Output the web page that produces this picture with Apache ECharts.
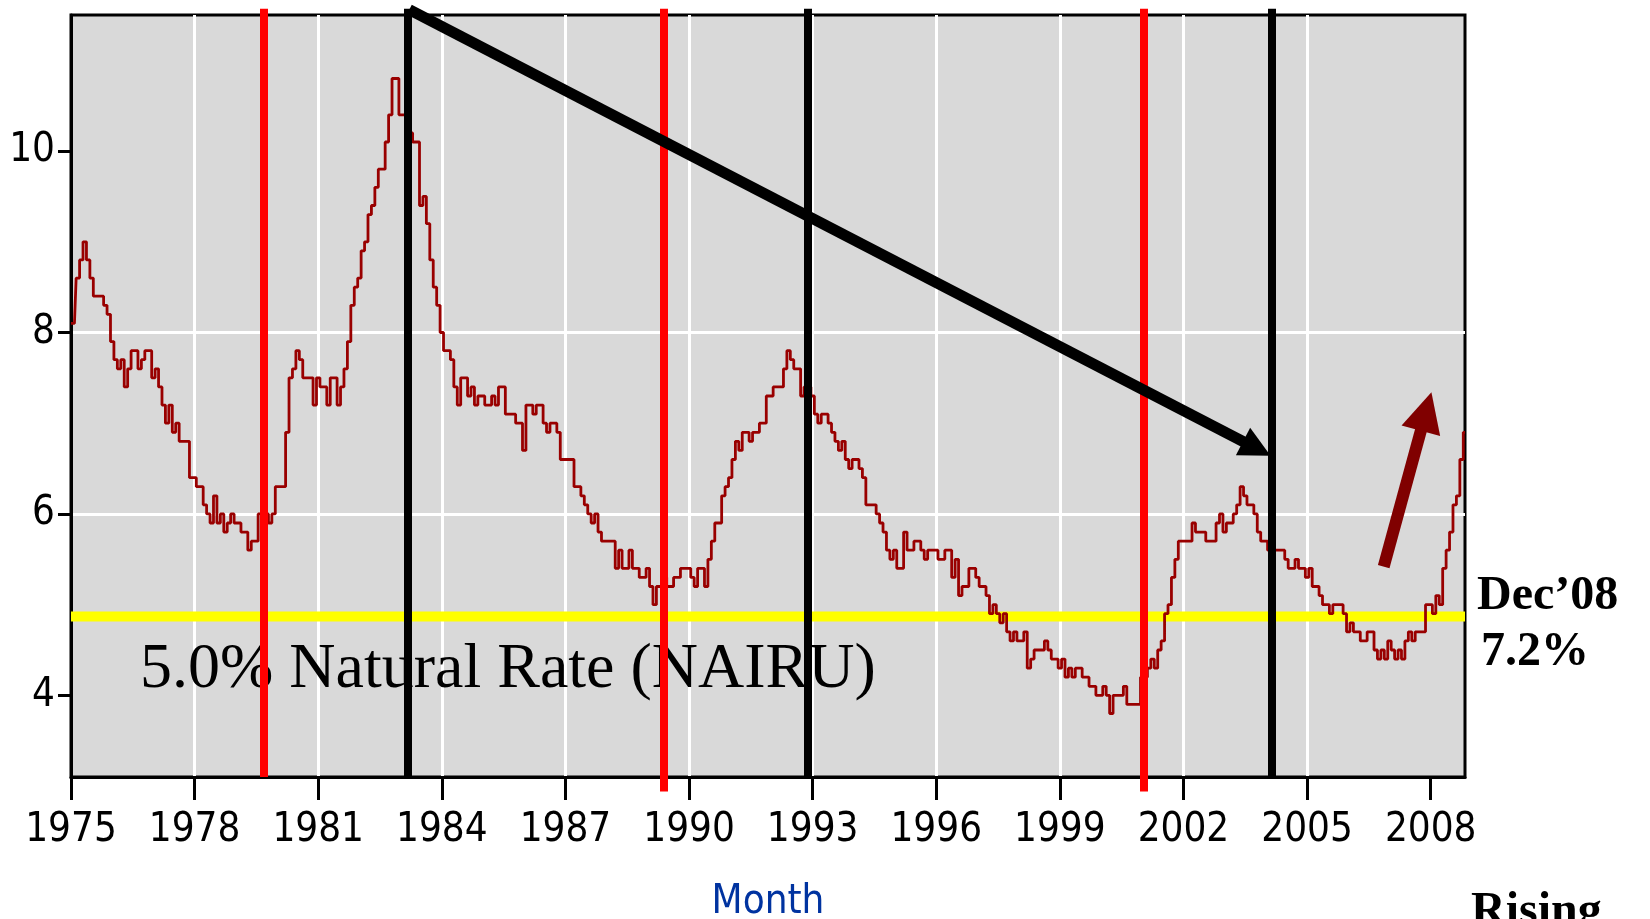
<!DOCTYPE html>
<html>
<head>
<meta charset="utf-8">
<title>Unemployment rate 1975-2008</title>
<script src="https://cdn.jsdelivr.net/npm/echarts@6/dist/echarts.min.js"></script>
<style>
  html, body { margin: 0; padding: 0; background: #fff; }
  #chart { width: 1650px; height: 919px; }
</style>
</head>
<body>
<div id="chart"></div>
<script>
// monthly unemployment rate (%), Jan 1975 .. Nov 2008
const startYear = 1975;
const rate1975s = [
  8.1, 8.1, 8.6, 8.8, 9.0, 8.8, 8.6, 8.4, 8.4, 8.4, 8.3, 8.2,
  7.9, 7.7, 7.6, 7.7, 7.4, 7.6, 7.8, 7.8, 7.6, 7.7, 7.8, 7.8,
  7.5, 7.6, 7.4, 7.2, 7.0, 7.2, 6.9, 7.0, 6.8, 6.8, 6.8, 6.4,
  6.4, 6.3, 6.3, 6.1, 6.0, 5.9, 6.2, 5.9, 6.0, 5.8, 5.9, 6.0,
  5.9, 5.9, 5.8, 5.8, 5.6, 5.7, 5.7, 6.0, 5.9, 6.0, 5.9, 6.0
];
const rate1980s = [
  6.3, 6.3, 6.3, 6.9, 7.5, 7.6, 7.8, 7.7, 7.5, 7.5, 7.5, 7.2,
  7.5, 7.4, 7.4, 7.2, 7.5, 7.5, 7.2, 7.4, 7.6, 7.9, 8.3, 8.5,
  8.6, 8.9, 9.0, 9.3, 9.4, 9.6, 9.8, 9.8, 10.1, 10.4, 10.8, 10.8,
  10.4, 10.4, 10.3, 10.2, 10.1, 10.1, 9.4, 9.5, 9.2, 8.8, 8.5, 8.3,
  8.0, 7.8, 7.8, 7.7, 7.4, 7.2, 7.5, 7.5, 7.3, 7.4, 7.2, 7.3,
  7.3, 7.2, 7.2, 7.3, 7.2, 7.4, 7.4, 7.1, 7.1, 7.1, 7.0, 7.0,
  6.7, 7.2, 7.2, 7.1, 7.2, 7.2, 7.0, 6.9, 7.0, 7.0, 6.9, 6.6,
  6.6, 6.6, 6.6, 6.3, 6.3, 6.2, 6.1, 6.0, 5.9, 6.0, 5.8, 5.7,
  5.7, 5.7, 5.7, 5.4, 5.6, 5.4, 5.4, 5.6, 5.4, 5.4, 5.3, 5.3,
  5.4, 5.2, 5.0, 5.2, 5.2, 5.3, 5.2, 5.2, 5.3, 5.3, 5.4, 5.4
];
const rate1990s = [
  5.4, 5.3, 5.2, 5.4, 5.4, 5.2, 5.5, 5.7, 5.9, 5.9, 6.2, 6.3,
  6.4, 6.6, 6.8, 6.7, 6.9, 6.9, 6.8, 6.9, 6.9, 7.0, 7.0, 7.3,
  7.3, 7.4, 7.4, 7.4, 7.6, 7.8, 7.7, 7.6, 7.6, 7.3, 7.4, 7.4,
  7.3, 7.1, 7.0, 7.1, 7.1, 7.0, 6.9, 6.8, 6.7, 6.8, 6.6, 6.5,
  6.6, 6.6, 6.5, 6.4, 6.1, 6.1, 6.1, 6.0, 5.9, 5.8, 5.6, 5.5,
  5.6, 5.4, 5.4, 5.8, 5.6, 5.6, 5.7, 5.7, 5.6, 5.5, 5.6, 5.6,
  5.6, 5.5, 5.5, 5.6, 5.6, 5.3, 5.5, 5.1, 5.2, 5.2, 5.4, 5.4,
  5.3, 5.2, 5.2, 5.1, 4.9, 5.0, 4.9, 4.8, 4.9, 4.7, 4.6, 4.7,
  4.6, 4.6, 4.7, 4.3, 4.4, 4.5, 4.5, 4.5, 4.6, 4.5, 4.4, 4.4,
  4.3, 4.4, 4.2, 4.3, 4.2, 4.3, 4.3, 4.2, 4.2, 4.1, 4.1, 4.0
];
const rate2000s = [
  4.0, 4.1, 4.0, 3.8, 4.0, 4.0, 4.0, 4.1, 3.9, 3.9, 3.9, 3.9,
  4.2, 4.2, 4.3, 4.4, 4.3, 4.5, 4.6, 4.9, 5.0, 5.3, 5.5, 5.7,
  5.7, 5.7, 5.7, 5.9, 5.8, 5.8, 5.8, 5.7, 5.7, 5.7, 5.9, 6.0,
  5.8, 5.9, 5.9, 6.0, 6.1, 6.3, 6.2, 6.1, 6.1, 6.0, 5.8, 5.7,
  5.7, 5.6, 5.8, 5.6, 5.6, 5.6, 5.5, 5.4, 5.4, 5.5, 5.4, 5.4,
  5.3, 5.4, 5.2, 5.2, 5.1, 5.0, 5.0, 4.9, 5.0, 5.0, 5.0, 4.9,
  4.7, 4.8, 4.7, 4.7, 4.6, 4.6, 4.7, 4.7, 4.5, 4.4, 4.5, 4.4,
  4.6, 4.5, 4.4, 4.5, 4.4, 4.6, 4.7, 4.6, 4.7, 4.7, 4.7, 5.0,
  5.0, 4.9, 5.1, 5.0, 5.4, 5.6, 5.8, 6.1, 6.2, 6.6, 6.9
];

const yearTicks = [1975, 1978, 1981, 1984, 1987, 1990, 1993, 1996, 1999, 2002, 2005, 2008];
const rateTicks = [4, 6, 8, 10];

// annotation levels / dates
const nairuLevel = 4.87;
const redLineYears = [1979.69, 1989.39, 2001.04];
const blackLineYears = [1983.18, 1992.89, 2004.15];

const rates = [].concat(rate1975s, rate1980s, rate1990s, rate2000s);
const points = rates.map((v, i) => [startYear + i / 12, v]);
const xMax = startYear + (rates.length - 1) / 12;

const tickFont = "'DejaVu Sans Condensed', 'Liberation Sans Narrow', sans-serif";
const serifFont = "'Liberation Serif', 'Times New Roman', serif";

const chart = echarts.init(document.getElementById('chart'));

const option = {
  animation: false,
  backgroundColor: '#ffffff',
  grid: {
    left: 71,
    right: 185,
    top: 15,
    bottom: 142,
    show: true,
    backgroundColor: '#d9d9d9',
    borderColor: '#000',
    borderWidth: 3,
    outerBoundsMode: 'none',
  },
  xAxis: {
    type: 'value',
    min: startYear,
    max: xMax,
    interval: 3,
    name: 'Month',
    nameLocation: 'middle',
    nameGap: 106,
    nameTextStyle: { color: '#0033a0', fontSize: 40, fontFamily: tickFont },
    axisLine: { lineStyle: { color: '#000', width: 3 } },
    axisTick: { length: 23, customValues: yearTicks, lineStyle: { color: '#000', width: 3 } },
    axisLabel: {
      customValues: yearTicks,
      margin: 34,
      color: '#000',
      fontSize: 40,
      fontFamily: tickFont,
      formatter: (v) => String(v),
    },
    splitLine: {
      show: true,
      showMinLine: false,
      showMaxLine: false,
      lineStyle: { color: '#fff', width: 3 },
    },
  },
  yAxis: {
    type: 'value',
    min: 3.1,
    max: 11.5,
    axisLine: { show: true, lineStyle: { color: '#000', width: 3 } },
    axisTick: { show: true, length: 13, customValues: rateTicks, lineStyle: { color: '#000', width: 3 } },
    axisLabel: {
      customValues: rateTicks,
      margin: 16,
      color: '#000',
      fontSize: 40,
      fontFamily: tickFont,
      padding: [0, 0, 7, 0],
      formatter: (v) => String(v),
    },
    splitLine: {
      show: true,
      showMinLine: false,
      showMaxLine: false,
      lineStyle: { color: '#fff', width: 3 },
    },
  },
  graphic: [
    {
      type: 'text', x: 140, y: 670, z: 1,
      style: { text: '5.0% Natural Rate (NAIRU)', fontSize: 64, fontFamily: serifFont, fill: '#000', verticalAlign: 'middle' },
    },
    {
      type: 'text', x: 1477, y: 597,
      style: { text: 'Dec\u201908', fontSize: 48, fontWeight: 'bold', fontFamily: serifFont, fill: '#000', verticalAlign: 'middle' },
    },
    {
      type: 'text', x: 1481, y: 653,
      style: { text: '7.2%', fontSize: 48, fontWeight: 'bold', fontFamily: serifFont, fill: '#000', verticalAlign: 'middle' },
    },
    {
      type: 'text', x: 1471, y: 913,
      style: { text: 'Rising', fontSize: 48, fontWeight: 'bold', fontFamily: serifFont, fill: '#000', verticalAlign: 'middle' },
    },
  ],
  series: [
    {
      // natural rate band
      type: 'line',
      z: 2,
      silent: true,
      showSymbol: false,
      data: [[startYear, nairuLevel], [xMax, nairuLevel]],
      lineStyle: { color: '#ffff00', width: 10 },
    },
    {
      name: 'Unemployment rate',
      type: 'line',
      z: 3,
      step: 'middle',
      showSymbol: false,
      data: points,
      lineStyle: { color: '#990000', width: 2.8 },
    },
    {
      type: 'lines',
      coordinateSystem: 'cartesian2d',
      z: 4,
      clip: false,
      silent: true,
      data: blackLineYears.map((y) => ({ coords: [[y, 11.57], [y, 3.1]] })),
      lineStyle: { color: '#000', width: 8, opacity: 1 },
    },
    {
      type: 'lines',
      coordinateSystem: 'cartesian2d',
      z: 5,
      clip: false,
      silent: true,
      data: redLineYears.map((y, i) => ({ coords: [[y, 11.57], [y, i === 0 ? 3.1 : 2.94]] })),
      lineStyle: { color: '#ff0000', width: 8, opacity: 1 },
    },
    {
      // long downward trend arrow
      type: 'lines',
      coordinateSystem: 'cartesian2d',
      z: 6,
      clip: false,
      silent: true,
      symbol: ['none', 'triangle'],
      symbolSize: [1, 31],
      data: [{ coords: [[1983.21, 11.56], [2003.78, 6.72]] }],
      lineStyle: { color: '#000', width: 11, opacity: 1 },
    },
    {
      // rising arrow
      type: 'lines',
      coordinateSystem: 'cartesian2d',
      z: 6,
      clip: false,
      silent: true,
      symbol: ['none', 'triangle'],
      symbolSize: [1, 40],
      data: [{ coords: [[2006.86, 5.42], [2007.89, 7.13]] }],
      lineStyle: { color: '#800000', width: 12, opacity: 1 },
    },
  ],
};

chart.setOption(option);
window.addEventListener('resize', () => {
  chart.resize();
});
</script>
</body>
</html>
